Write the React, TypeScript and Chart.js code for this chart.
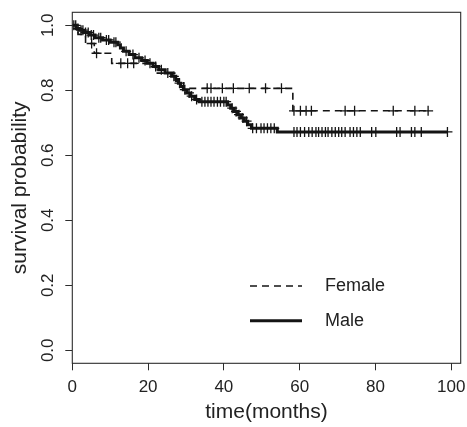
import React, { useEffect, useRef } from "react";
import { Chart, registerables } from "chart.js";

Chart.register(...registerables);

// ---------- data ----------
const seriesLabels = ["Female", "Male"];
const xTickValues = [0, 20, 40, 60, 80, 100];
const yTickValues = [0, 0.2, 0.4, 0.6, 0.8, 1.0];
const xTitle = "time(months)";
const yTitle = "survival probability";

// Female Kaplan-Meier steps (time of step, survival after the step)
const femaleStepTimes = [0, 1.5, 3.5, 5.8, 10.4, 22.0, 27.3, 29.4, 58.2, 93.9];
const femaleStepSurv = [1.0, 0.972, 0.944, 0.914, 0.883, 0.853, 0.828, 0.806, 0.737, 0.737];
// Female censored times
const femaleCensorTimes = [
  5.1, 6.4, 12.8, 14.6, 16.2, 35.6, 36.6, 39.6, 42.5, 46.7, 51.0, 55.2,
  58.5, 60.2, 61.7, 63.1, 72.0, 74.5, 84.7, 90.4, 93.9,
];

// Male Kaplan-Meier steps
const maleStepTimes = [
  0, 1, 2, 3, 4.5, 6, 8, 10, 12, 12.7, 13.5, 15, 16.5, 18.3, 19.8, 21.3, 22.8,
  24.5, 26.2, 27.3, 28, 28.6, 29.3, 30.2, 31.2, 32.3, 33.5, 41, 41.8, 42.7,
  43.6, 44.5, 45.4, 46.3, 47.3, 54.1, 99,
];
const maleStepSurv = [
  1.0, 0.99, 0.985, 0.978, 0.97, 0.962, 0.955, 0.948, 0.94, 0.93, 0.92, 0.91,
  0.9, 0.892, 0.883, 0.873, 0.863, 0.853, 0.843, 0.833, 0.822, 0.812, 0.802,
  0.792, 0.782, 0.772, 0.765, 0.755, 0.745, 0.735, 0.725, 0.715, 0.705, 0.694,
  0.683, 0.672, 0.672,
];
// Male censored times
const maleCensorTimes = [
  0.4, 0.9, 1.5, 2.3, 2.8, 3.5, 4.2, 5.0, 5.6, 7.0, 7.5, 9.0, 9.6, 11.0, 11.5,
  14.2, 16.0, 17.6, 19.2, 20.5, 22.0, 23.5, 25.2, 26.8, 28.3, 29.7, 30.8, 31.5,
  32.8, 34.2, 35.0, 35.8, 36.6, 37.4, 38.3, 39.1, 40.0, 40.6, 42.2, 43.2, 44.0,
  45.0, 46.0, 47.6, 48.6, 49.8, 50.6, 51.5, 52.4, 53.3, 58.5, 59.3, 60.2, 61.3,
  62.4, 63.3, 64.3, 65.0, 65.9, 66.8, 67.5, 68.5, 69.4, 70.3, 71.1, 72.0, 73.3,
  74.2, 75.1, 76.0, 79.0, 80.1, 85.6, 86.5, 89.5, 90.4, 92.1, 99.0,
];

// ---------- styling ----------
const FONT = '"Liberation Sans", Arial, Helvetica, sans-serif';
const INK = "#141414";
const TEXT = "#222222";
const AXIS = "#2c2c2c";

function survAt(times: number[], surv: number[], t: number) {
  let s = surv[0];
  for (let i = 0; i < times.length; i++) if (times[i] <= t) s = surv[i];
  return s;
}

const stepPoints = (times: number[], surv: number[]) =>
  times.map((t, i) => ({ x: t, y: surv[i] }));
const censorPoints = (ct: number[], times: number[], surv: number[]) =>
  ct.map((t) => ({ x: t, y: survAt(times, surv, t) }));

const framePlugin = {
  id: "frame",
  afterDatasetsDraw(chart: any) {
    const { ctx, chartArea: a } = chart;
    ctx.save();
    ctx.strokeStyle = AXIS;
    ctx.lineWidth = 1.1;
    ctx.setLineDash([]);
    ctx.strokeRect(a.left, a.top, a.right - a.left, a.bottom - a.top);
    ctx.restore();
  },
};

const legendPlugin = {
  id: "kmLegend",
  afterDraw(chart: any) {
    const { ctx } = chart;
    const items = chart.data.datasets.filter((d: any) => d.label);
    ctx.save();
    items.forEach((d: any, i: number) => {
      const y = 286 + i * 34.7;
      ctx.beginPath();
      ctx.setLineDash(d.borderDash || []);
      ctx.lineWidth = d.borderWidth;
      ctx.strokeStyle = d.borderColor;
      ctx.moveTo(250, y);
      ctx.lineTo(302, y);
      ctx.stroke();
      ctx.setLineDash([]);
      ctx.fillStyle = TEXT;
      ctx.font = `18px ${FONT}`;
      ctx.textAlign = "left";
      ctx.textBaseline = "middle";
      ctx.fillText(d.label, 325, y);
    });
    ctx.restore();
  },
};

export default function App() {
  const ref = useRef<HTMLCanvasElement>(null);

  useEffect(() => {
    const canvas = ref.current;
    if (!canvas) return;
    const crossStyle = {
      showLine: false,
      pointStyle: "cross",
      pointRadius: 5,
      pointHoverRadius: 5,
      pointBorderWidth: 1.3,
      pointBorderColor: INK,
      pointBackgroundColor: INK,
      borderColor: INK,
    };
    const chart = new Chart(canvas, {
      type: "line",
      data: {
        datasets: [
          {
            label: seriesLabels[0],
            data: stepPoints(femaleStepTimes, femaleStepSurv),
            stepped: "before",
            borderColor: INK,
            borderWidth: 1.6,
            borderDash: [7, 5],
            pointRadius: 0,
            fill: false,
          },
          {
            label: "",
            data: censorPoints(femaleCensorTimes, femaleStepTimes, femaleStepSurv),
            ...crossStyle,
          },
          {
            label: seriesLabels[1],
            data: stepPoints(maleStepTimes, maleStepSurv),
            stepped: "before",
            borderColor: INK,
            borderWidth: 3,
            pointRadius: 0,
            fill: false,
          },
          {
            label: "",
            data: censorPoints(maleCensorTimes, maleStepTimes, maleStepSurv),
            ...crossStyle,
          },
        ] as any,
      },
      options: {
        animation: false,
        responsive: false,
        devicePixelRatio: 1,
        events: [],
        layout: { padding: { top: 12.3, right: 4, bottom: 0, left: 0 } },
        plugins: {
          legend: { display: false },
          tooltip: { enabled: false },
        },
        scales: {
          x: {
            type: "linear",
            min: 0,
            max: 102.5,
            afterBuildTicks: (s: any) => {
              s.ticks = xTickValues.map((v) => ({ value: v }));
            },
            afterFit: (s: any) => {
              s.height = 427 - 363.3;
              s.paddingLeft = 0;
              s.paddingRight = 0;
              s.paddingTop = 0;
              s.paddingBottom = 0;
            },
            border: { display: false },
            grid: {
              drawOnChartArea: false,
              drawTicks: true,
              tickLength: 7,
              color: AXIS,
              lineWidth: 1,
            },
            ticks: {
              autoSkip: false,
              maxRotation: 0,
              minRotation: 0,
              padding: 6.6,
              color: TEXT,
              font: { family: FONT, size: 17 },
              callback: (v: any) => String(v),
            },
            title: {
              display: true,
              text: xTitle,
              color: TEXT,
              font: { family: FONT, size: 21 },
              padding: { top: 0, bottom: 1.7 },
            },
          },
          y: {
            type: "linear",
            min: -0.04,
            max: 1.04,
            afterBuildTicks: (s: any) => {
              s.ticks = yTickValues.map((v) => ({ value: v }));
            },
            afterFit: (s: any) => {
              s.width = 72.3;
              s.paddingLeft = 0;
              s.paddingRight = 0;
              s.paddingTop = 0;
              s.paddingBottom = 0;
            },
            border: { display: false },
            grid: {
              drawOnChartArea: false,
              drawTicks: true,
              tickLength: 7,
              color: AXIS,
              lineWidth: 1,
            },
            ticks: {
              autoSkip: false,
              minRotation: 90,
              maxRotation: 90,
              crossAlign: "center",
              padding: 5.5,
              color: TEXT,
              font: { family: FONT, size: 17 },
              callback: (v: any) => Number(v).toFixed(1),
            },
            title: {
              display: true,
              text: yTitle,
              color: TEXT,
              font: { family: FONT, size: 21 },
              padding: { top: 7.7, bottom: 0 },
            },
          },
        },
      } as any,
      plugins: [framePlugin, legendPlugin],
    });
    return () => chart.destroy();
  }, []);

  return (
    <div
      style={{
        position: "fixed",
        left: 0,
        top: 0,
        width: 467,
        height: 427,
        background: "#ffffff",
      }}
    >
      <canvas
        ref={ref}
        width={467}
        height={427}
        style={{ width: 467, height: 427, display: "block" }}
      />
    </div>
  );
}
